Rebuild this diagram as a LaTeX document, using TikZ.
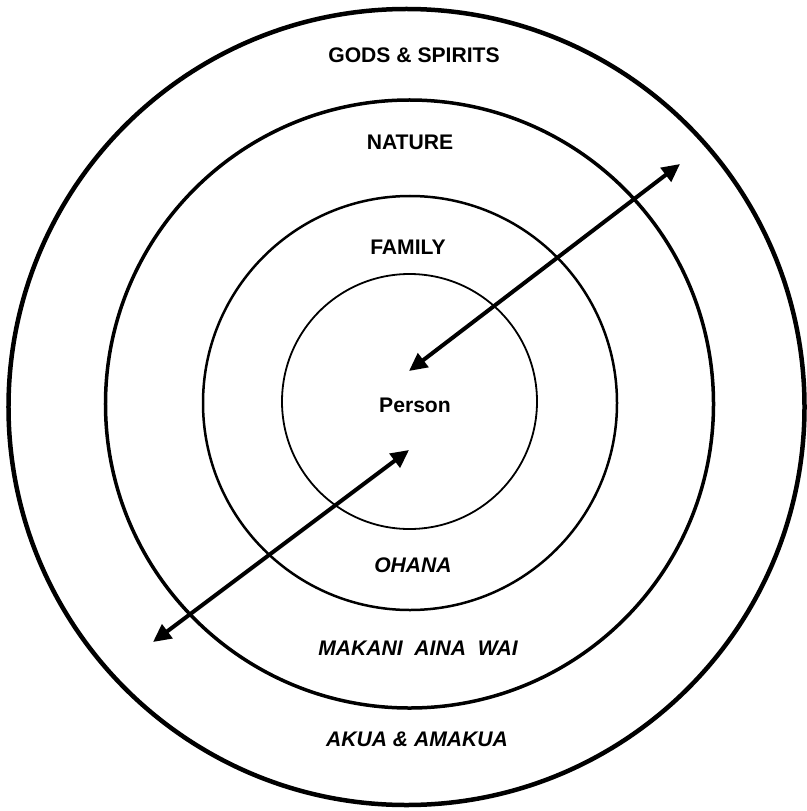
\documentclass[tikz,border=0pt]{standalone}
\usepackage{fontspec}
\setmainfont{Liberation Sans}
\usetikzlibrary{arrows.meta}
\tikzset{
  ring/.style={draw=black, circle, inner sep=0pt, outer sep=0pt},
  lbl/.style={font=\fontsize{21.2}{25}\selectfont\bfseries},
  ilbl/.style={font=\fontsize{21.2}{25}\selectfont\bfseries\itshape},
  twoway/.style={{Triangle[length=18bp,width=17bp]}-{Triangle[length=18bp,width=17bp]}, line width=4bp}
}

\begin{document}
\begin{tikzpicture}[x=1bp,y=-1bp]
  \useasboundingbox (0,0) rectangle (807,811);
  \node[ring, line width=4.5bp, minimum size=796bp] (gods) at (406.5,407) {};
  \node[ring, line width=3.5bp, minimum size=608bp] (nature) at (409.5,404) {};
  \node[ring, line width=2.5bp, minimum size=414bp] (family) at (410,403) {};
  \node[ring, line width=1.8bp, minimum size=255bp] (person) at (409.5,401.5) {};

  \node[lbl] (godslbl) at (414,55) {GODS \& SPIRITS};
  \node[lbl] (naturelbl) at (410,142.5) {NATURE};
  \node[lbl] (familylbl) at (408,247) {FAMILY};
  \node[lbl] (personlbl) at (415,405) {Person};
  \node[ilbl] (ohana) at (413,565) {OHANA};
  \node[ilbl] (makani) at (418,648.5) {MAKANI\ \ AINA\ \ WAI};
  \node[ilbl] (akua) at (417,739.5) {AKUA \& AMAKUA};

  \coordinate (outa) at (680,164);
  \coordinate (ina) at (409,371);
  \coordinate (inb) at (409,450);
  \coordinate (outb) at (153,642);
  \draw[twoway] (ina) -- (outa);
  \draw[twoway] (inb) -- (outb);
\end{tikzpicture}
\end{document}
